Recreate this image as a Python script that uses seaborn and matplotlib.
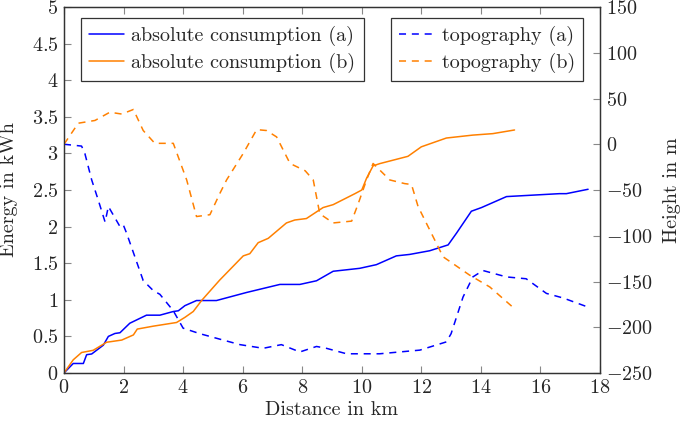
import pandas as pd
import matplotlib
matplotlib.use("Agg")
import matplotlib.pyplot as plt
from matplotlib.ticker import FuncFormatter, MultipleLocator
import seaborn as sns

# === Data ===
dist_cons_a = [0, 0.31, 0.65, 0.76, 0.93, 1.32, 1.49, 1.71, 1.88, 2.21, 2.77, 3.22, 3.67, 3.84,
               4.06, 4.45, 5.12, 6.13, 7.25, 7.92, 8.48, 9.04, 9.49, 9.93, 10.49, 11.16, 11.61,
               12.28, 12.9, 13.18, 13.68, 14.02, 14.86, 15.75, 16.64, 16.87, 17.6]
cons_a = [0, 0.13, 0.13, 0.25, 0.26, 0.38, 0.5, 0.54, 0.55, 0.68, 0.79, 0.79, 0.84, 0.85,
          0.92, 0.99, 0.99, 1.10, 1.21, 1.21, 1.26, 1.39, 1.41, 1.43, 1.48, 1.60, 1.62,
          1.67, 1.75, 1.91, 2.21, 2.26, 2.41, 2.43, 2.45, 2.45, 2.51]

dist_cons_b = [0, 0.31, 0.59, 0.98, 1.43, 1.94, 2.33, 2.46, 3.0, 3.78, 4.06, 4.34, 4.62, 5.23,
               6.02, 6.24, 6.52, 6.86, 7.47, 7.75, 8.14, 8.70, 9.04, 9.77, 10.0, 10.16, 10.38,
               10.6, 11.55, 12.0, 12.84, 13.73, 14.4, 15.13]
cons_b = [0, 0.18, 0.28, 0.31, 0.42, 0.45, 0.52, 0.60, 0.64, 0.69, 0.76, 0.84, 0.99, 1.27,
          1.60, 1.63, 1.78, 1.84, 2.05, 2.09, 2.11, 2.26, 2.30, 2.45, 2.50, 2.66, 2.83,
          2.86, 2.96, 3.09, 3.21, 3.25, 3.27, 3.32]

dist_topo_a = [0, 0.59, 0.7, 0.93, 1.15, 1.38, 1.49, 1.88, 1.99, 2.1, 2.66, 3.0, 3.22, 3.67,
               4.0, 4.56, 5.23, 5.91, 6.69, 7.3, 7.92, 8.48, 8.81, 9.49, 10.6, 11.61, 11.95,
               12.84, 13.0, 13.4, 13.73, 14.07, 14.86, 15.52, 16.2, 16.76, 17.6]
topo_a = [0, -2, -10, -39, -61, -85, -68, -90, -88, -97, -149, -160, -164, -182,
          -201, -207, -213, -219, -223, -219, -227, -221, -223, -229, -229, -226, -225,
          -216, -207, -167, -145, -138, -145, -147, -163, -168, -178]

dist_topo_b = [0, 0.48, 1.04, 1.54, 1.94, 2.33, 2.66, 3.05, 3.67, 4.12, 4.45, 4.9, 5.23, 5.46,
               6.02, 6.47, 6.8, 7.14, 7.59, 8.1, 8.37, 8.59, 9.04, 9.66, 9.88, 10.16, 10.38,
               10.94, 11.44, 11.67, 11.89, 12.73, 13.62, 14.3, 15.07]
topo_b = [0, 23, 26, 35, 33, 38, 15, 1, 1, -39, -79, -77, -54, -39,
          -10, 16, 15, 8, -21, -29, -39, -76, -86, -84, -65, -39, -21,
          -39, -43, -44, -68, -123, -143, -156, -178]

BLUE = "#0000ff"
ORANGE = "#ff8000"


def main():
    sns.set_style("ticks")
    plt.rcParams["font.family"] = ["cmr10", "DejaVu Serif"]
    plt.rcParams["mathtext.fontset"] = "cm"
    plt.rcParams["axes.unicode_minus"] = False
    plt.rcParams["font.size"] = 14.5

    fig = plt.figure(figsize=(6.85, 4.23), dpi=100)
    ax = fig.add_axes([64 / 685, 1 - 373 / 423, 536 / 685, 366 / 423])
    ax2 = ax.twinx()

    df_a = pd.DataFrame({"d": dist_cons_a, "v": cons_a})
    df_b = pd.DataFrame({"d": dist_cons_b, "v": cons_b})
    sns.lineplot(data=df_a, x="d", y="v", ax=ax, color=BLUE, lw=1.1,
                 label="absolute consumption (a)")
    sns.lineplot(data=df_b, x="d", y="v", ax=ax, color=ORANGE, lw=1.1,
                 label="absolute consumption (b)")

    dt_a = pd.DataFrame({"d": dist_topo_a, "h": topo_a})
    dt_b = pd.DataFrame({"d": dist_topo_b, "h": topo_b})
    sns.lineplot(data=dt_a, x="d", y="h", ax=ax2, color=BLUE, lw=1.1,
                 linestyle=(0, (4.6, 3.8)), label="topography (a)")
    sns.lineplot(data=dt_b, x="d", y="h", ax=ax2, color=ORANGE, lw=1.1,
                 linestyle=(0, (4.6, 3.8)), label="topography (b)")

    ax.set_xlim(0, 18)
    ax.set_ylim(0, 5)
    ax2.set_ylim(-250, 150)
    ax.xaxis.set_major_locator(MultipleLocator(2))
    ax.yaxis.set_major_locator(MultipleLocator(0.5))
    ax2.yaxis.set_major_locator(MultipleLocator(50))
    fmt = FuncFormatter(lambda v, p: f"${v:g}$")
    ax.xaxis.set_major_formatter(fmt)
    ax.yaxis.set_major_formatter(fmt)
    ax2.yaxis.set_major_formatter(fmt)

    ax.set_xlabel("Distance in km", labelpad=3)
    ax.set_ylabel("Energy in kWh")
    ax2.set_ylabel("Height in m")
    ax.yaxis.set_label_coords(-0.086, 0.5)
    ax2.yaxis.set_label_coords(1.117, 0.5)

    for a in (ax, ax2):
        for s in a.spines.values():
            s.set_visible(True)
            s.set_color("#333333")
            s.set_linewidth(0.9)
    ax.tick_params(axis="x", direction="in", top=True, length=5, color="#888888",
                   width=0.8, pad=4)
    ax.tick_params(axis="y", direction="in", left=True, right=False, length=5,
                   color="#888888", width=0.8, pad=4)
    ax2.tick_params(axis="y", direction="in", length=5, color="#888888", width=0.8, pad=4)

    leg_kw = dict(fancybox=False, edgecolor="#333333", framealpha=1, handlelength=1.75,
                  borderpad=0.4, labelspacing=0.32, handletextpad=0.35, borderaxespad=0)
    leg1 = ax.legend(loc="upper left", bbox_to_anchor=(17 / 536, 355 / 366), **leg_kw)
    leg1.get_frame().set_linewidth(0.9)
    leg2 = ax2.legend(loc="upper right", bbox_to_anchor=(519 / 536, 355 / 366), **leg_kw)
    leg2.get_frame().set_linewidth(0.9)

    fig.savefig("out.png", dpi=100)
    plt.close(fig)


if __name__ == "__main__":
    main()
